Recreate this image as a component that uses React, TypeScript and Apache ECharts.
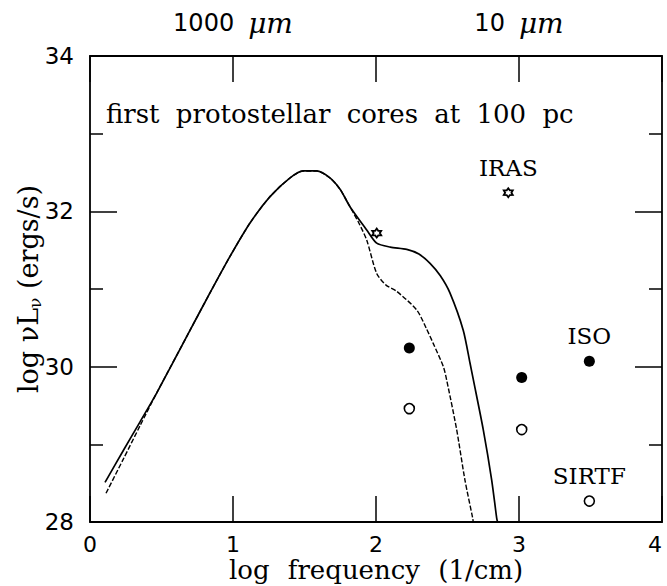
import React, { useEffect, useRef } from 'react';
import * as echarts from 'echarts';

// Solid model curve: [log frequency (1/cm), log nuL_nu (ergs/s)]
const solidCurve: [number, number][] = [
  [0.105, 28.51], [0.233, 28.92], [0.35, 29.29], [0.466, 29.66], [0.70, 30.47],
  [0.839, 30.95], [0.979, 31.42], [1.119, 31.85], [1.259, 32.19], [1.399, 32.43],
  [1.49, 32.52], [1.585, 32.52], [1.678, 32.43], [1.75, 32.28], [1.818, 32.06],
  [1.935, 31.76], [2.005, 31.59], [2.10, 31.54], [2.215, 31.51], [2.30, 31.45],
  [2.378, 31.33], [2.45, 31.17], [2.517, 30.95], [2.61, 30.47], [2.657, 30.05],
  [2.681, 29.83], [2.75, 29.19], [2.809, 28.54], [2.844, 28.05], [2.85, 28.0],
];

// Dashed model curve
const dashedCurve: [number, number][] = [
  [0.112, 28.37], [0.233, 28.81], [0.35, 29.24], [0.466, 29.66], [0.70, 30.47],
  [0.839, 30.95], [0.979, 31.42], [1.119, 31.85], [1.259, 32.19], [1.399, 32.43],
  [1.49, 32.52], [1.585, 32.52], [1.678, 32.43], [1.75, 32.28], [1.818, 32.06],
  [1.88, 31.85], [1.935, 31.63], [2.005, 31.20], [2.07, 31.05], [2.145, 30.97],
  [2.285, 30.73], [2.35, 30.5], [2.40, 30.30], [2.471, 30.0], [2.494, 29.83],
  [2.564, 29.19], [2.622, 28.54], [2.676, 28.05], [2.68, 28.0],
];

// Detection limits
const irasPoints: [number, number][] = [[2.005, 31.72], [2.925, 32.24]];
const isoPoints: [number, number][] = [[2.233, 30.24], [3.019, 29.86], [3.492, 30.07]];
const sirtfPoints: [number, number][] = [[2.233, 29.46], [3.019, 29.19], [3.492, 28.27]];

const instrumentNames = ['IRAS', 'ISO', 'SIRTF'];
const instrumentLabelIndex = [1, 2, 2];

// Axes
const xMin = 0, xMax = 4, xStep = 1;
const yMin = 28, yMax = 34, yStep = 2;
const topTickValues = [1, 3];
const topTickNumbers = ['1000', '10'];
const topTickUnit = 'μm';
const xNameWords = ['log', 'frequency', '(1/cm)'];

const titleWords = ['first', 'protostellar', 'cores', 'at', '100', 'pc'];

function hexagramPath(): string {
  let d = '';
  for (let k = 0; k < 12; k++) {
    const a = ((-90 + k * 30) * Math.PI) / 180;
    const r = k % 2 === 0 ? 1 : 0.6;
    d += (k ? 'L' : 'M') + (r * Math.cos(a)).toFixed(3) + ' ' + (r * Math.sin(a)).toFixed(3);
  }
  return d + 'Z';
}

export default function App() {
  const ref = useRef<HTMLDivElement>(null);
  useEffect(() => {
    const chart = echarts.init(ref.current!, null, { renderer: 'svg' });
    const black = '#000';
    const axisLine = { show: true, onZero: false, lineStyle: { color: black, width: 1.8 } };
    const tickStyle = { color: black, width: 1.5 };
    const serif = 'DejaVu Serif';
    const sans = 'DejaVu Sans';
    const labelStyle = { fontFamily: serif, fontSize: 23, color: black };

    const mkLabelled = (pts: [number, number][], idx: number) =>
      pts.map((p, i) =>
        i === instrumentLabelIndex[idx]
          ? { value: p, label: { show: true, formatter: instrumentNames[idx], position: 'top', distance: 8, ...labelStyle } }
          : { value: p }
      );

    const option: any = {
      animation: false,
      backgroundColor: '#fff',
      grid: { left: 90, right: 5, top: 56, bottom: 64, containLabel: false, outerBoundsMode: 'none' },
      graphic: [
        {
          type: 'text',
          left: 106,
          top: 101,
          style: {
            text: titleWords.map((w) => `{w|${w}}`).join(' '),
            fontFamily: serif,
            fontSize: 26,
            fill: black,
            rich: { w: { fontFamily: serif, fontSize: 26, fill: black, padding: [0, 4, 0, 4] } },
          },
        },
      ],
      xAxis: [
        {
          type: 'value', position: 'bottom', min: xMin, max: xMax, interval: xStep,
          axisLine, axisTick: { show: true, inside: true, length: 26, lineStyle: tickStyle },
          axisLabel: { margin: 11, color: black, fontFamily: sans, fontSize: 22, alignMaxLabel: 'right' },
          splitLine: { show: false },
          name: xNameWords.map((w) => `{a|${w}}`).join(' '),
          nameLocation: 'middle', nameGap: 35, nameMoveOverlap: false,
          nameTextStyle: {
            fontFamily: serif, fontSize: 26, color: black,
            rich: { a: { fontFamily: serif, fontSize: 26, color: black, padding: [0, 5, 0, 5] } },
          },
        },
        {
          type: 'value', position: 'top', min: xMin, max: xMax, interval: xStep,
          axisLine, axisTick: { show: true, inside: true, length: 26, lineStyle: tickStyle },
          axisLabel: {
            margin: 19, color: black,
            formatter: (v: number) => {
              const i = topTickValues.indexOf(v);
              return i >= 0 ? `{n|${topTickNumbers[i]}}{g| }{u|${topTickUnit}}` : '';
            },
            rich: {
              n: { fontFamily: sans, fontSize: 24, color: black },
              g: { fontFamily: sans, fontSize: 24, color: black, width: 14 },
              u: { fontFamily: serif, fontStyle: 'italic', fontSize: 28, color: black },
            },
          },
          splitLine: { show: false },
        },
      ],
      yAxis: [
        {
          type: 'value', position: 'left', min: yMin, max: yMax, interval: yStep,
          axisLine,
          axisTick: { show: true, inside: true, length: 27, lineStyle: tickStyle },
          minorTick: { show: true, splitNumber: 2, length: 13, lineStyle: tickStyle },
          axisLabel: { margin: 16, color: black, fontFamily: sans, fontSize: 23 },
          splitLine: { show: false }, minorSplitLine: { show: false },
          name: '{a|log νL}{s|ν}{a| (ergs/s)}', nameLocation: 'middle', nameGap: 47, nameRotate: 90,
          nameMoveOverlap: false,
          nameTextStyle: {
            rich: {
              a: { fontFamily: serif, fontSize: 27, color: black, lineHeight: 30 },
              s: { fontFamily: serif, fontSize: 17, color: black, lineHeight: 14, verticalAlign: 'bottom' },
            },
          },
        },
        {
          type: 'value', position: 'right', min: yMin, max: yMax, interval: yStep,
          axisLine,
          axisTick: { show: true, inside: true, length: 27, lineStyle: tickStyle },
          minorTick: { show: true, splitNumber: 2, length: 13, lineStyle: tickStyle },
          axisLabel: { show: false },
          splitLine: { show: false }, minorSplitLine: { show: false },
        },
      ],
      series: [
        {
          type: 'line', data: solidCurve, showSymbol: false, smooth: 0.25,
          lineStyle: { color: black, width: 1.7 }, z: 2,
        },
        {
          type: 'line', data: dashedCurve, showSymbol: false, smooth: 0.25,
          lineStyle: { color: black, width: 1.4, type: [5, 2] }, z: 2,
        },
        {
          type: 'scatter', data: mkLabelled(irasPoints, 0), symbol: 'path://' + hexagramPath(),
          symbolSize: 9, itemStyle: { color: '#fff', borderColor: black, borderWidth: 1.8, opacity: 1 }, z: 3,
        },
        {
          type: 'scatter', data: mkLabelled(isoPoints, 1), symbol: 'circle',
          symbolSize: 11, itemStyle: { color: black, opacity: 1 }, z: 3,
        },
        {
          type: 'scatter', data: mkLabelled(sirtfPoints, 2), symbol: 'circle',
          symbolSize: 10, itemStyle: { color: '#fff', borderColor: black, borderWidth: 1.6, opacity: 1 }, z: 3,
        },
      ],
    };
    chart.setOption(option);
    return () => chart.dispose();
  }, []);
  return (
    <div
      ref={ref}
      style={{ position: 'fixed', left: 0, top: 0, width: 667, height: 586, background: '#fff' }}
    />
  );
}
